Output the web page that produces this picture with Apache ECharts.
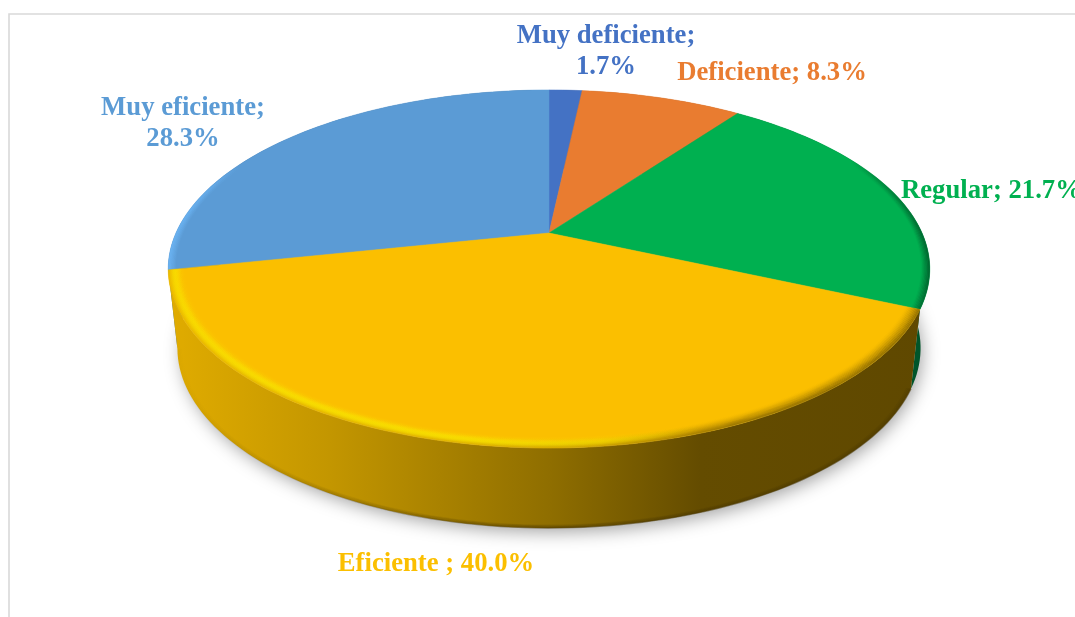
<!DOCTYPE html>
<html>
<head>
<meta charset="utf-8">
<style>html,body{margin:0;padding:0;background:#fff}#c{width:1075px;height:617px}</style>
<script src="https://cdn.jsdelivr.net/npm/echarts@6/dist/echarts.min.js"></script>
</head>
<body>
<div id="c"></div>
<script>
const categories = ['Muy deficiente', 'Deficiente', 'Regular', 'Eficiente ', 'Muy eficiente'];
const values = [1.7, 8.3, 21.7, 40.0, 28.3];
const colors = ['#4472c4', '#e97c30', '#00b050', '#fbbf00', '#5b9bd5'];
const wraps = [true, false, false, false, true];
const labelAt = [[606, 36], [772, 73], [901, 191], [436, 564], [183, 108]];

const G = echarts.graphic.LinearGradient;
const cx = 549, K = 0.201;
const topPlane = {A: 373, B: 171.8, Y: 233};
const basePlane = {A: 364, B: 172.6, Y: 312};
const total = values.reduce((a, b) => a + b, 0);

function proj(p, r, deg) {
  const t = deg * Math.PI / 180, u = r * Math.sin(t), v = -r * Math.cos(t), d = 1 - K * v;
  return [cx + p.A * u / d, p.Y + p.B * v / d];
}
function arc(p, r, a, b) {
  const n = Math.max(2, Math.ceil(Math.abs(b - a) / 1.5)), pts = [];
  for (let i = 0; i <= n; i++) pts.push(proj(p, r, a + (b - a) * i / n));
  return pts;
}
const hGrad = stops => new G(160, 0, 940, 0, stops.map(s => ({offset: (s[0] - 160) / 780, color: s[1]})), true);
const alphaGrad = (rgb, stops, m) => hGrad(stops.map(s => [s[0], `rgba(${rgb},${s[1] * m})`]));

const wallFill = [
  () => '#2f5597', () => '#a85a20', () => '#00552a',
  () => hGrad([[160, '#e2ad00'], [330, '#c39600'], [550, '#8f6e00'], [700, '#644c00'], [940, '#5f4800']]),
  () => '#3f6f9a'
];

function bands(i, a, b) {
  const out = [], steps = 16, w = 0.05;
  for (let s = 0; s < steps; s++) {
    const t = (s + 0.5) / steps, r = 1 - t * w;
    const shape = {points: arc(topPlane, r, a, b)};
    const add = stroke => out.push({type: 'polyline', z2: 6, shape,
      style: {fill: null, stroke, lineWidth: 1.6}, silent: true});
    if (i === 3) {
      const bell = 0.75 * Math.exp(-Math.pow((t - 0.33) / 0.24, 2));
      add(alphaGrad('255,230,0', [[160, 1], [480, 1], [600, .7], [700, 0], [940, 0]], bell));
      const dark = 0.6 * Math.pow(Math.max(0, 1 - t / 0.75), 1.6);
      add(alphaGrad('92,70,0', [[160, .15], [450, .2], [600, .35], [720, .7], [940, 1]], dark));
    } else if (i === 2 && t < 0.45) {
      add(alphaGrad('0,60,28', [[850, 0], [905, .5], [940, 1]], 0.7 * (1 - t / 0.45)));
    } else if (i === 4 && t < 0.4) {
      add(alphaGrad('110,185,250', [[160, 1], [190, .7], [240, 0], [940, 0]], 0.8 * (1 - t / 0.4)));
    }
  }
  return out;
}

function renderItem(params, api) {
  const i = params.dataIndex, val = api.value(0);
  let start = 0;
  for (let j = 0; j < i; j++) start += values[j];
  const a = start / total * 360, b = (start + val) / total * 360;
  const kids = [];
  if (i === 0) {
    kids.push({type: 'polygon', z2: 0, silent: true,
      shape: {points: arc(basePlane, 0.995, 0, 360)},
      style: {fill: '#bbb', shadowColor: 'rgba(0,0,0,0.38)', shadowBlur: 18, shadowOffsetY: 5, shadowOffsetX: 3}});
  }
  const wall = arc(topPlane, 1, a, b).concat(arc(basePlane, 1, b, a));
  kids.push({type: 'polygon', z2: 2 + (i === 3 ? 1 : 0), silent: true, shape: {points: wall}, style: {fill: wallFill[i]()}});
  if (i === 3) {
    for (let s = 0; s < 4; s++) {
      kids.push({type: 'polyline', z2: 4, silent: true,
        shape: {points: arc(basePlane, 1 - s * 0.0035, a, b)},
        style: {fill: null, lineWidth: 1.3,
          stroke: alphaGrad('70,52,0', [[160, 0], [300, .35], [550, 1], [940, 1]], 0.55 - s * 0.13)}});
    }
  }
  const face = [[cx, topPlane.Y]].concat(arc(topPlane, 1, a, b));
  kids.push({type: 'polygon', z2: i === 3 ? 5.5 : 5, silent: true, shape: {points: face},
    style: {fill: colors[i], stroke: colors[i], lineWidth: 0.5}});
  kids.push(...bands(i, a, b).map(e => (e.z2 = i === 3 ? 6.5 : 5.2, e)));
  const text = categories[i] + ';' + (wraps[i] ? '\n' : ' ') + val.toFixed(1) + '%';
  kids.push({type: 'text', z2: 10, silent: true,
    x: labelAt[i][0], y: labelAt[i][1] - (wraps[i] ? 15.5 : 0),
    style: {text, fill: colors[i], font: 'bold 26.7px "Liberation Serif"', lineHeight: 31,
      align: i === 2 ? 'left' : 'center', verticalAlign: wraps[i] ? 'top' : 'middle'}});
  return {type: 'group', children: kids};
}

const chart = echarts.init(document.getElementById('c'), null, {renderer: 'canvas'});
chart.setOption({
  backgroundColor: '#ffffff',
  animation: false,
  graphic: [
    {type: 'polyline', z: -1, silent: true, shape: {points: [[9, 617], [9, 14], [1075, 14]]},
      style: {fill: null, stroke: '#d9d9d9', lineWidth: 1.6}}
  ],
  series: [{type: 'custom', coordinateSystem: 'none', renderItem, silent: true,
    data: values.map((v, i) => ({name: categories[i], value: [v]}))}]
});
</script>
</body>
</html>
